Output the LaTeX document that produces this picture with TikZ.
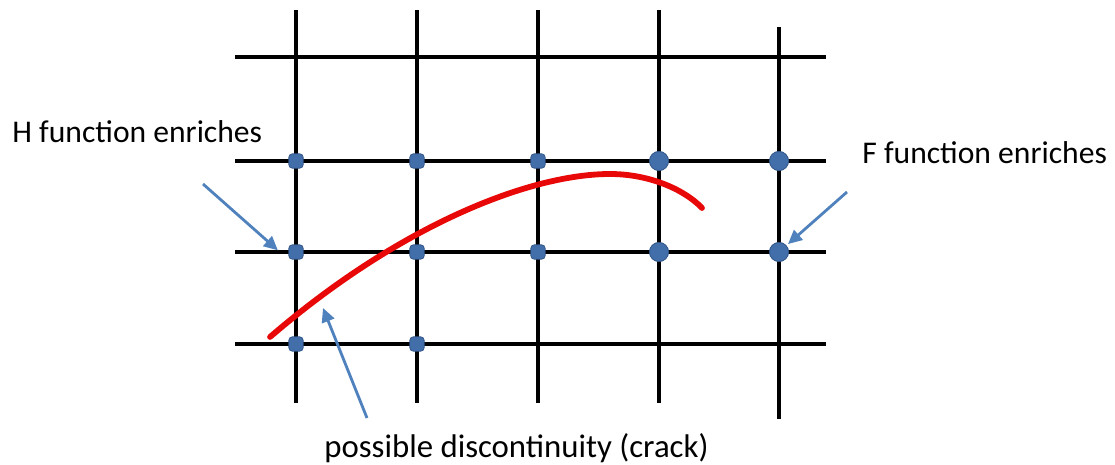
\documentclass[tikz,border=0pt]{standalone}
\usepackage{fontspec}
\setmainfont{Carlito}
\usetikzlibrary{arrows.meta,positioning,calc}
\definecolor{nodeblue}{RGB}{66,110,170}
\definecolor{nodeedge}{RGB}{50,85,135}
\definecolor{arrowblue}{RGB}{79,129,189}
\definecolor{crackred}{RGB}{232,8,8}

\begin{document}
\begin{tikzpicture}[
  x=0.5pt,y=-0.5pt,
  grid/.style={line width=2pt,draw=black},
  hdot/.style={rectangle,rounded corners=1.8pt,minimum size=7.2pt,inner sep=0pt,
               fill=nodeblue,draw=nodeedge,line width=0.4pt},
  fdot/.style={circle,minimum size=9.6pt,inner sep=0pt,
               fill=nodeblue,draw=nodeedge,line width=0.4pt},
  lbl/.style={inner sep=0pt,font=\fontsize{15.8}{19}\selectfont},
  crack/.style={line width=2.9pt,draw=crackred,line cap=round},
  ar/.style={-{Triangle[length=7pt,width=6.5pt]},line width=1.4pt,draw=arrowblue,fill=arrowblue}
]
\useasboundingbox (0,0) rectangle (1115,465);

\foreach \x in {296,417,538,659}
  \draw[grid] (\x,10) -- (\x,403);
\draw[grid] (779,27) -- (779,419);
\foreach \y in {57,161,252,344}
  \draw[grid] (235,\y) -- (826,\y);

\draw[crack] (270,337) .. controls (400,225) and (530,174) .. (610,174)
  .. controls (650,174) and (685,190) .. (702,208);

\foreach \c/\x in {1/296,2/417,3/538}
  \foreach \r/\y in {1/161,2/252}
    \node[hdot] (d\c\r) at (\x,\y) {};
\node[hdot] (d13) at (296,344) {};
\node[hdot] (d23) at (417,344) {};
\foreach \c/\x in {4/659,5/779}
  \foreach \r/\y in {1/161,2/252}
    \node[fdot] (d\c\r) at (\x,\y) {};

\node[lbl,anchor=base west] (hlbl) at (12,143) {H function enriches};
\node[lbl,anchor=base west] (flbl) at (862,163) {F function enriches};
\node[lbl,anchor=base west,font=\fontsize{16.4}{19}\selectfont] (cracklbl) at (324,457) {possible discontinuity (crack)};

\coordinate (htail) at (203,184);
\coordinate (ftail) at (847,192);
\coordinate (cracktail) at (367,418);
\coordinate (crackpt) at (323,308);

\draw[ar,shorten >=7pt] (htail) -- (d12.south west);
\draw[ar,shorten >=1pt] (ftail) -- (d52);
\draw[ar] (cracktail) -- (crackpt);
\end{tikzpicture}
\end{document}
